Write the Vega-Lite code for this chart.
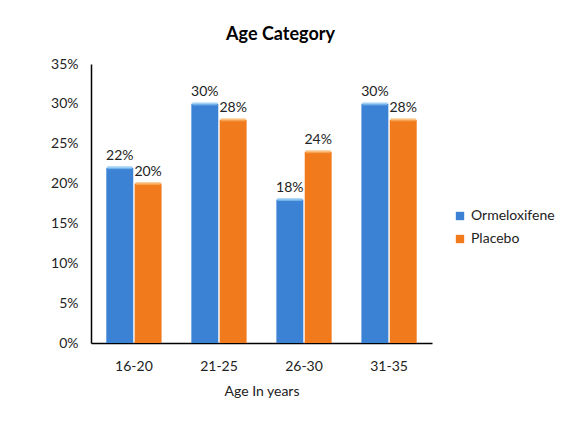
{
  "$schema": "https://vega.github.io/schema/vega-lite/v6.json",
  "width": 341,
  "height": 279,
  "padding": {"left": 50, "top": 26, "right": 10, "bottom": 10},
  "background": "white",
  "title": {"text": "Age Category", "font": "Lato", "fontSize": 18, "fontWeight": "bold", "color": "#000", "anchor": "middle", "frame": "group", "dx": 19, "offset": 13},
  "config": {"view": {"stroke": null}, "font": "Lato"},
  "data": {"values": [
    {"age": "16-20", "group": "Ormeloxifene", "value": 0.22},
    {"age": "16-20", "group": "Placebo", "value": 0.20},
    {"age": "21-25", "group": "Ormeloxifene", "value": 0.30},
    {"age": "21-25", "group": "Placebo", "value": 0.28},
    {"age": "26-30", "group": "Ormeloxifene", "value": 0.18},
    {"age": "26-30", "group": "Placebo", "value": 0.24},
    {"age": "31-35", "group": "Ormeloxifene", "value": 0.30},
    {"age": "31-35", "group": "Placebo", "value": 0.28}
  ]},
  "encoding": {
    "x": {"field": "age", "type": "nominal", "title": "Age In years",
      "scale": {"paddingInner": 0.35, "paddingOuter": 0.18},
      "axis": {"labelAngle": 0, "ticks": false, "domainColor": "#000", "domainWidth": 1.5, "labelFontSize": 14, "labelColor": "#222", "labelPadding": 16, "titleFontSize": 14, "titleFontWeight": "normal", "titleColor": "#222", "titlePadding": 11}},
    "xOffset": {"field": "group", "type": "nominal", "scale": {"paddingInner": 0.05}},
    "y": {"field": "value", "type": "quantitative", "title": null,
      "scale": {"domain": [0, 0.35]},
      "axis": {"format": ".0%", "values": [0, 0.05, 0.1, 0.15, 0.2, 0.25, 0.3, 0.35], "grid": false, "ticks": false, "domainColor": "#000", "domainWidth": 1.5, "labelFontSize": 14, "labelColor": "#222", "labelPadding": 13}}
  },
  "layer": [
    {"mark": {"type": "bar", "stroke": null},
      "encoding": {"color": {"field": "group", "type": "nominal", "title": null,
        "scale": {"domain": ["Ormeloxifene", "Placebo"], "range": ["#3b82d4", "#f07a1c"]},
        "legend": {"orient": "none", "legendX": 362, "legendY": 145, "symbolType": "square", "symbolSize": 70, "labelFontSize": 14, "labelColor": "#222", "rowPadding": 9, "symbolStrokeWidth": 0}}}},
    {"mark": {"type": "tick", "orient": "horizontal", "thickness": 3, "size": 25},
      "encoding": {"fill": {"field": "group", "type": "nominal", "legend": null,
        "scale": {"domain": ["Ormeloxifene", "Placebo"], "range": ["#8cc8f2", "#f9b464"]}}}},
    {"mark": {"type": "text", "baseline": "bottom", "dy": -5, "fontSize": 14, "color": "#222"},
      "encoding": {"text": {"field": "value", "type": "quantitative", "format": ".0%"}}}
  ]
}
